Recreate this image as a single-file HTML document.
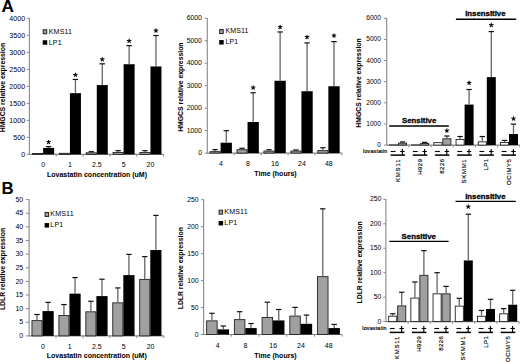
<!DOCTYPE html>
<html><head><meta charset="utf-8"><style>
html,body{margin:0;padding:0;background:#fff;width:520px;height:362px;overflow:hidden}
svg{display:block}
text{stroke:#000;stroke-width:0px;paint-order:stroke}
text[font-weight=bold]{stroke-width:0.05px}
</style></head><body>
<svg width="520" height="362" viewBox="0 0 520 362" font-family='"Liberation Sans", sans-serif'>
<rect width="520" height="362" fill="#fff"/>
<text x="1.60" y="12.40" font-size="17.2" text-anchor="start" font-weight="bold">A</text>
<text x="1.50" y="193.90" font-size="16.8" text-anchor="start" font-weight="bold">B</text>
<line x1="29.40" y1="17.90" x2="29.40" y2="154.80" stroke="#888" stroke-width="1.1"/>
<line x1="26.80" y1="154.40" x2="29.40" y2="154.40" stroke="#888" stroke-width="1.0"/>
<text x="25.08" y="156.61" font-size="7.1" text-anchor="end">0</text>
<line x1="26.80" y1="137.39" x2="29.40" y2="137.39" stroke="#888" stroke-width="1.0"/>
<text x="25.08" y="139.59" font-size="7.1" text-anchor="end">500</text>
<line x1="26.80" y1="120.38" x2="29.40" y2="120.38" stroke="#888" stroke-width="1.0"/>
<text x="25.08" y="122.58" font-size="7.1" text-anchor="end">1000</text>
<line x1="26.80" y1="103.36" x2="29.40" y2="103.36" stroke="#888" stroke-width="1.0"/>
<text x="25.08" y="105.57" font-size="7.1" text-anchor="end">1500</text>
<line x1="26.80" y1="86.35" x2="29.40" y2="86.35" stroke="#888" stroke-width="1.0"/>
<text x="25.08" y="88.56" font-size="7.1" text-anchor="end">2000</text>
<line x1="26.80" y1="69.34" x2="29.40" y2="69.34" stroke="#888" stroke-width="1.0"/>
<text x="25.08" y="71.54" font-size="7.1" text-anchor="end">2500</text>
<line x1="26.80" y1="52.33" x2="29.40" y2="52.33" stroke="#888" stroke-width="1.0"/>
<text x="25.08" y="54.53" font-size="7.1" text-anchor="end">3000</text>
<line x1="26.80" y1="35.31" x2="29.40" y2="35.31" stroke="#888" stroke-width="1.0"/>
<text x="25.08" y="37.52" font-size="7.1" text-anchor="end">3500</text>
<line x1="26.80" y1="18.30" x2="29.40" y2="18.30" stroke="#888" stroke-width="1.0"/>
<text x="25.08" y="20.51" font-size="7.1" text-anchor="end">4000</text>
<line x1="29.40" y1="154.40" x2="163.60" y2="154.40" stroke="#888" stroke-width="1.1"/>
<line x1="56.24" y1="154.40" x2="56.24" y2="156.60" stroke="#888" stroke-width="1.0"/>
<line x1="83.08" y1="154.40" x2="83.08" y2="156.60" stroke="#888" stroke-width="1.0"/>
<line x1="109.92" y1="154.40" x2="109.92" y2="156.60" stroke="#888" stroke-width="1.0"/>
<line x1="136.76" y1="154.40" x2="136.76" y2="156.60" stroke="#888" stroke-width="1.0"/>
<line x1="163.60" y1="154.40" x2="163.60" y2="156.60" stroke="#888" stroke-width="1.0"/>
<rect x="32.55" y="153.49" width="10.10" height="0.91" fill="#a0a0a0" stroke="#222" stroke-width="0.9"/>
<rect x="43.10" y="147.90" width="11.00" height="6.50" fill="#000"/>
<line x1="48.60" y1="147.90" x2="48.60" y2="146.61" stroke="#666" stroke-width="1.3"/>
<line x1="45.90" y1="146.61" x2="51.30" y2="146.61" stroke="#111" stroke-width="1.2"/>
<path d="M48.60,142.10L48.60,140.20M48.60,142.10L50.41,141.51M48.60,142.10L49.72,143.64M48.60,142.10L47.48,143.64M48.60,142.10L46.79,141.51" stroke="#000" stroke-width="1.05" stroke-linecap="round"/>
<rect x="59.39" y="153.32" width="10.10" height="1.08" fill="#a0a0a0" stroke="#222" stroke-width="0.9"/>
<rect x="69.94" y="93.16" width="11.00" height="61.25" fill="#000"/>
<line x1="75.44" y1="93.16" x2="75.44" y2="79.44" stroke="#666" stroke-width="1.3"/>
<line x1="72.74" y1="79.44" x2="78.14" y2="79.44" stroke="#111" stroke-width="1.2"/>
<path d="M75.44,74.90L75.44,73.00M75.44,74.90L77.25,74.31M75.44,74.90L76.56,76.44M75.44,74.90L74.32,76.44M75.44,74.90L73.63,74.31" stroke="#000" stroke-width="1.05" stroke-linecap="round"/>
<rect x="86.23" y="152.81" width="10.10" height="1.59" fill="#a0a0a0" stroke="#222" stroke-width="0.9"/>
<rect x="96.78" y="85.06" width="11.00" height="69.34" fill="#000"/>
<line x1="91.28" y1="152.36" x2="91.28" y2="151.68" stroke="#666" stroke-width="1.3"/>
<line x1="88.58" y1="151.68" x2="93.98" y2="151.68" stroke="#111" stroke-width="1.2"/>
<line x1="102.28" y1="85.06" x2="102.28" y2="63.83" stroke="#666" stroke-width="1.3"/>
<line x1="99.58" y1="63.83" x2="104.98" y2="63.83" stroke="#111" stroke-width="1.2"/>
<path d="M102.28,59.30L102.28,57.40M102.28,59.30L104.09,58.71M102.28,59.30L103.40,60.84M102.28,59.30L101.16,60.84M102.28,59.30L100.47,58.71" stroke="#000" stroke-width="1.05" stroke-linecap="round"/>
<rect x="113.07" y="152.47" width="10.10" height="1.93" fill="#a0a0a0" stroke="#222" stroke-width="0.9"/>
<rect x="123.62" y="64.23" width="11.00" height="90.17" fill="#000"/>
<line x1="118.12" y1="152.02" x2="118.12" y2="150.66" stroke="#666" stroke-width="1.3"/>
<line x1="115.42" y1="150.66" x2="120.82" y2="150.66" stroke="#111" stroke-width="1.2"/>
<line x1="129.12" y1="64.23" x2="129.12" y2="45.62" stroke="#666" stroke-width="1.3"/>
<line x1="126.42" y1="45.62" x2="131.82" y2="45.62" stroke="#111" stroke-width="1.2"/>
<path d="M129.12,41.00L129.12,39.10M129.12,41.00L130.93,40.41M129.12,41.00L130.24,42.54M129.12,41.00L128.00,42.54M129.12,41.00L127.31,40.41" stroke="#000" stroke-width="1.05" stroke-linecap="round"/>
<rect x="139.91" y="152.47" width="10.10" height="1.93" fill="#a0a0a0" stroke="#222" stroke-width="0.9"/>
<rect x="150.46" y="66.45" width="11.00" height="87.95" fill="#000"/>
<line x1="144.96" y1="152.02" x2="144.96" y2="150.66" stroke="#666" stroke-width="1.3"/>
<line x1="142.26" y1="150.66" x2="147.66" y2="150.66" stroke="#111" stroke-width="1.2"/>
<line x1="155.96" y1="66.45" x2="155.96" y2="35.52" stroke="#666" stroke-width="1.3"/>
<line x1="153.26" y1="35.52" x2="158.66" y2="35.52" stroke="#111" stroke-width="1.2"/>
<path d="M155.96,30.60L155.96,28.70M155.96,30.60L157.77,30.01M155.96,30.60L157.08,32.14M155.96,30.60L154.84,32.14M155.96,30.60L154.15,30.01" stroke="#000" stroke-width="1.05" stroke-linecap="round"/>
<text x="43.12" y="166.60" font-size="7.0" text-anchor="middle">0</text>
<text x="69.96" y="166.60" font-size="7.0" text-anchor="middle">1</text>
<text x="96.80" y="166.60" font-size="7.0" text-anchor="middle">2.5</text>
<text x="123.64" y="166.60" font-size="7.0" text-anchor="middle">5</text>
<text x="150.48" y="166.60" font-size="7.0" text-anchor="middle">20</text>
<text x="97.00" y="176.50" font-size="7.0" text-anchor="middle" font-weight="bold">Lovastatin concentration (uM)</text>
<rect x="43.20" y="29.75" width="3.50" height="4.00" fill="#a0a0a0" stroke="#222" stroke-width="1.0"/>
<text x="48.70" y="33.50" font-size="7.1" text-anchor="start" letter-spacing="0.15">KMS11</text>
<rect x="42.70" y="40.25" width="4.50" height="4.50" fill="#000"/>
<text x="48.70" y="44.60" font-size="7.1" text-anchor="start" letter-spacing="0.15">LP1</text>
<text x="4.80" y="87.60" font-size="6.85" text-anchor="middle" font-weight="bold" transform="rotate(-90 4.80 87.60)">HMGCS relative expression</text>
<line x1="207.30" y1="17.90" x2="207.30" y2="153.50" stroke="#888" stroke-width="1.1"/>
<line x1="204.70" y1="153.10" x2="207.30" y2="153.10" stroke="#888" stroke-width="1.0"/>
<text x="201.98" y="155.23" font-size="6.9" text-anchor="end">0</text>
<line x1="204.70" y1="130.63" x2="207.30" y2="130.63" stroke="#888" stroke-width="1.0"/>
<text x="201.98" y="132.77" font-size="6.9" text-anchor="end">1000</text>
<line x1="204.70" y1="108.17" x2="207.30" y2="108.17" stroke="#888" stroke-width="1.0"/>
<text x="201.98" y="110.30" font-size="6.9" text-anchor="end">2000</text>
<line x1="204.70" y1="85.70" x2="207.30" y2="85.70" stroke="#888" stroke-width="1.0"/>
<text x="201.98" y="87.83" font-size="6.9" text-anchor="end">3000</text>
<line x1="204.70" y1="63.23" x2="207.30" y2="63.23" stroke="#888" stroke-width="1.0"/>
<text x="201.98" y="65.37" font-size="6.9" text-anchor="end">4000</text>
<line x1="204.70" y1="40.77" x2="207.30" y2="40.77" stroke="#888" stroke-width="1.0"/>
<text x="201.98" y="42.90" font-size="6.9" text-anchor="end">5000</text>
<line x1="204.70" y1="18.30" x2="207.30" y2="18.30" stroke="#888" stroke-width="1.0"/>
<text x="201.98" y="20.43" font-size="6.9" text-anchor="end">6000</text>
<line x1="207.30" y1="153.10" x2="342.00" y2="153.10" stroke="#888" stroke-width="1.1"/>
<line x1="234.24" y1="153.10" x2="234.24" y2="155.30" stroke="#888" stroke-width="1.0"/>
<line x1="261.18" y1="153.10" x2="261.18" y2="155.30" stroke="#888" stroke-width="1.0"/>
<line x1="288.12" y1="153.10" x2="288.12" y2="155.30" stroke="#888" stroke-width="1.0"/>
<line x1="315.06" y1="153.10" x2="315.06" y2="155.30" stroke="#888" stroke-width="1.0"/>
<line x1="342.00" y1="153.10" x2="342.00" y2="155.30" stroke="#888" stroke-width="1.0"/>
<rect x="210.05" y="151.64" width="10.10" height="1.46" fill="#a0a0a0" stroke="#222" stroke-width="0.9"/>
<rect x="220.60" y="142.74" width="11.30" height="10.36" fill="#000"/>
<line x1="215.10" y1="151.19" x2="215.10" y2="149.62" stroke="#666" stroke-width="1.3"/>
<line x1="212.40" y1="149.62" x2="217.80" y2="149.62" stroke="#111" stroke-width="1.2"/>
<line x1="226.25" y1="142.74" x2="226.25" y2="130.68" stroke="#666" stroke-width="1.3"/>
<line x1="223.55" y1="130.68" x2="228.95" y2="130.68" stroke="#111" stroke-width="1.2"/>
<rect x="236.99" y="149.73" width="10.10" height="3.37" fill="#a0a0a0" stroke="#222" stroke-width="0.9"/>
<rect x="247.54" y="122.01" width="11.30" height="31.09" fill="#000"/>
<line x1="242.04" y1="149.28" x2="242.04" y2="148.27" stroke="#666" stroke-width="1.3"/>
<line x1="239.34" y1="148.27" x2="244.74" y2="148.27" stroke="#111" stroke-width="1.2"/>
<line x1="253.19" y1="122.01" x2="253.19" y2="92.73" stroke="#666" stroke-width="1.3"/>
<line x1="250.49" y1="92.73" x2="255.89" y2="92.73" stroke="#111" stroke-width="1.2"/>
<path d="M253.19,87.60L253.19,85.70M253.19,87.60L255.00,87.01M253.19,87.60L254.31,89.14M253.19,87.60L252.07,89.14M253.19,87.60L251.38,87.01" stroke="#000" stroke-width="1.05" stroke-linecap="round"/>
<rect x="263.93" y="151.08" width="10.10" height="2.02" fill="#a0a0a0" stroke="#222" stroke-width="0.9"/>
<rect x="274.48" y="80.76" width="11.30" height="72.34" fill="#000"/>
<line x1="268.98" y1="150.63" x2="268.98" y2="149.73" stroke="#666" stroke-width="1.3"/>
<line x1="266.28" y1="149.73" x2="271.68" y2="149.73" stroke="#111" stroke-width="1.2"/>
<line x1="280.13" y1="80.76" x2="280.13" y2="31.96" stroke="#666" stroke-width="1.3"/>
<line x1="277.43" y1="31.96" x2="282.83" y2="31.96" stroke="#111" stroke-width="1.2"/>
<path d="M280.13,27.10L280.13,25.20M280.13,27.10L281.94,26.51M280.13,27.10L281.25,28.64M280.13,27.10L279.01,28.64M280.13,27.10L278.32,26.51" stroke="#000" stroke-width="1.05" stroke-linecap="round"/>
<rect x="290.87" y="151.08" width="10.10" height="2.02" fill="#a0a0a0" stroke="#222" stroke-width="0.9"/>
<rect x="301.42" y="91.23" width="11.30" height="61.87" fill="#000"/>
<line x1="295.92" y1="150.63" x2="295.92" y2="149.95" stroke="#666" stroke-width="1.3"/>
<line x1="293.22" y1="149.95" x2="298.62" y2="149.95" stroke="#111" stroke-width="1.2"/>
<line x1="307.07" y1="91.23" x2="307.07" y2="42.90" stroke="#666" stroke-width="1.3"/>
<line x1="304.37" y1="42.90" x2="309.77" y2="42.90" stroke="#111" stroke-width="1.2"/>
<path d="M307.07,37.10L307.07,35.20M307.07,37.10L308.88,36.51M307.07,37.10L308.19,38.64M307.07,37.10L305.95,38.64M307.07,37.10L305.26,36.51" stroke="#000" stroke-width="1.05" stroke-linecap="round"/>
<rect x="317.81" y="150.63" width="10.10" height="2.47" fill="#a0a0a0" stroke="#222" stroke-width="0.9"/>
<rect x="328.36" y="86.24" width="11.30" height="66.86" fill="#000"/>
<line x1="322.86" y1="150.18" x2="322.86" y2="147.71" stroke="#666" stroke-width="1.3"/>
<line x1="320.16" y1="147.71" x2="325.56" y2="147.71" stroke="#111" stroke-width="1.2"/>
<line x1="334.01" y1="86.24" x2="334.01" y2="41.62" stroke="#666" stroke-width="1.3"/>
<line x1="331.31" y1="41.62" x2="336.71" y2="41.62" stroke="#111" stroke-width="1.2"/>
<path d="M334.01,35.60L334.01,33.70M334.01,35.60L335.82,35.01M334.01,35.60L335.13,37.14M334.01,35.60L332.89,37.14M334.01,35.60L332.20,35.01" stroke="#000" stroke-width="1.05" stroke-linecap="round"/>
<text x="221.07" y="165.80" font-size="7.0" text-anchor="middle">4</text>
<text x="248.01" y="165.80" font-size="7.0" text-anchor="middle">8</text>
<text x="274.95" y="165.80" font-size="7.0" text-anchor="middle">16</text>
<text x="301.89" y="165.80" font-size="7.0" text-anchor="middle">24</text>
<text x="328.83" y="165.80" font-size="7.0" text-anchor="middle">48</text>
<text x="275.50" y="175.60" font-size="7.0" text-anchor="middle" font-weight="bold">Time (hours)</text>
<rect x="219.70" y="29.55" width="3.50" height="4.00" fill="#a0a0a0" stroke="#222" stroke-width="1.0"/>
<text x="225.41" y="33.00" font-size="7.0" text-anchor="start" letter-spacing="0.15">KMS11</text>
<rect x="219.20" y="40.05" width="4.50" height="4.50" fill="#000"/>
<text x="225.41" y="44.00" font-size="7.0" text-anchor="start" letter-spacing="0.15">LP1</text>
<text x="183.20" y="87.15" font-size="6.85" text-anchor="middle" font-weight="bold" transform="rotate(-90 183.20 87.15)">HMGCS relative expression</text>
<line x1="386.70" y1="17.90" x2="386.70" y2="145.50" stroke="#888" stroke-width="1.1"/>
<line x1="384.10" y1="145.10" x2="386.70" y2="145.10" stroke="#888" stroke-width="1.0"/>
<text x="380.96" y="147.13" font-size="6.6" text-anchor="end">0</text>
<line x1="384.10" y1="123.97" x2="386.70" y2="123.97" stroke="#888" stroke-width="1.0"/>
<text x="380.96" y="125.99" font-size="6.6" text-anchor="end">1000</text>
<line x1="384.10" y1="102.83" x2="386.70" y2="102.83" stroke="#888" stroke-width="1.0"/>
<text x="380.96" y="104.86" font-size="6.6" text-anchor="end">2000</text>
<line x1="384.10" y1="81.70" x2="386.70" y2="81.70" stroke="#888" stroke-width="1.0"/>
<text x="380.96" y="83.73" font-size="6.6" text-anchor="end">3000</text>
<line x1="384.10" y1="60.57" x2="386.70" y2="60.57" stroke="#888" stroke-width="1.0"/>
<text x="380.96" y="62.59" font-size="6.6" text-anchor="end">4000</text>
<line x1="384.10" y1="39.43" x2="386.70" y2="39.43" stroke="#888" stroke-width="1.0"/>
<text x="380.96" y="41.46" font-size="6.6" text-anchor="end">5000</text>
<line x1="384.10" y1="18.30" x2="386.70" y2="18.30" stroke="#888" stroke-width="1.0"/>
<text x="380.96" y="20.33" font-size="6.6" text-anchor="end">6000</text>
<line x1="386.70" y1="145.10" x2="519.90" y2="145.10" stroke="#888" stroke-width="1.1"/>
<line x1="408.90" y1="145.10" x2="408.90" y2="147.30" stroke="#888" stroke-width="1.0"/>
<line x1="431.10" y1="145.10" x2="431.10" y2="147.30" stroke="#888" stroke-width="1.0"/>
<line x1="453.30" y1="145.10" x2="453.30" y2="147.30" stroke="#888" stroke-width="1.0"/>
<line x1="475.50" y1="145.10" x2="475.50" y2="147.30" stroke="#888" stroke-width="1.0"/>
<line x1="497.70" y1="145.10" x2="497.70" y2="147.30" stroke="#888" stroke-width="1.0"/>
<line x1="519.90" y1="145.10" x2="519.90" y2="147.30" stroke="#888" stroke-width="1.0"/>
<rect x="389.45" y="144.92" width="8.10" height="0.18" fill="#fff" stroke="#222" stroke-width="0.9"/>
<rect x="398.45" y="143.16" width="8.10" height="1.94" fill="#a0a0a0" stroke="#222" stroke-width="0.9"/>
<line x1="402.50" y1="142.71" x2="402.50" y2="141.93" stroke="#666" stroke-width="1.3"/>
<line x1="399.80" y1="141.93" x2="405.20" y2="141.93" stroke="#111" stroke-width="1.2"/>
<line x1="390.70" y1="151.50" x2="395.50" y2="151.50" stroke="#000" stroke-width="1.1"/>
<line x1="400.20" y1="151.50" x2="404.70" y2="151.50" stroke="#000" stroke-width="1.1"/>
<line x1="402.40" y1="149.00" x2="402.40" y2="155.10" stroke="#000" stroke-width="1.1"/>
<line x1="390.50" y1="155.10" x2="405.10" y2="155.10" stroke="#000" stroke-width="1.5"/>
<text x="399.65" y="158.60" font-size="6.0" text-anchor="end" style="stroke-width:0.15px" letter-spacing="0.85" transform="rotate(-90 399.65 158.60)">KMS11</text>
<rect x="411.65" y="144.92" width="8.10" height="0.18" fill="#fff" stroke="#222" stroke-width="0.9"/>
<rect x="420.65" y="143.44" width="8.10" height="1.66" fill="#a0a0a0" stroke="#222" stroke-width="0.9"/>
<line x1="424.70" y1="142.99" x2="424.70" y2="142.35" stroke="#666" stroke-width="1.3"/>
<line x1="422.00" y1="142.35" x2="427.40" y2="142.35" stroke="#111" stroke-width="1.2"/>
<line x1="412.90" y1="151.50" x2="417.70" y2="151.50" stroke="#000" stroke-width="1.1"/>
<line x1="422.40" y1="151.50" x2="426.90" y2="151.50" stroke="#000" stroke-width="1.1"/>
<line x1="424.60" y1="149.00" x2="424.60" y2="155.10" stroke="#000" stroke-width="1.1"/>
<line x1="412.70" y1="155.10" x2="427.30" y2="155.10" stroke="#000" stroke-width="1.5"/>
<text x="421.85" y="158.60" font-size="6.0" text-anchor="end" style="stroke-width:0.15px" letter-spacing="0.42" transform="rotate(-90 421.85 158.60)">H929</text>
<rect x="433.85" y="142.65" width="8.10" height="2.45" fill="#fff" stroke="#222" stroke-width="0.9"/>
<rect x="442.85" y="138.77" width="8.10" height="6.33" fill="#a0a0a0" stroke="#222" stroke-width="0.9"/>
<line x1="446.90" y1="138.32" x2="446.90" y2="136.01" stroke="#666" stroke-width="1.3"/>
<line x1="444.20" y1="136.01" x2="449.60" y2="136.01" stroke="#111" stroke-width="1.2"/>
<path d="M446.90,130.70L446.90,128.80M446.90,130.70L448.71,130.11M446.90,130.70L448.02,132.24M446.90,130.70L445.78,132.24M446.90,130.70L445.09,130.11" stroke="#000" stroke-width="1.05" stroke-linecap="round"/>
<line x1="435.10" y1="151.50" x2="439.90" y2="151.50" stroke="#000" stroke-width="1.1"/>
<line x1="444.60" y1="151.50" x2="449.10" y2="151.50" stroke="#000" stroke-width="1.1"/>
<line x1="446.80" y1="149.00" x2="446.80" y2="155.10" stroke="#000" stroke-width="1.1"/>
<line x1="434.90" y1="155.10" x2="449.50" y2="155.10" stroke="#000" stroke-width="1.5"/>
<text x="444.05" y="158.60" font-size="6.0" text-anchor="end" style="stroke-width:0.15px" letter-spacing="0.42" transform="rotate(-90 444.05 158.60)">8226</text>
<rect x="456.05" y="139.46" width="8.10" height="5.64" fill="#fff" stroke="#222" stroke-width="0.9"/>
<rect x="464.60" y="104.57" width="9.00" height="40.53" fill="#000"/>
<line x1="460.10" y1="139.01" x2="460.10" y2="136.52" stroke="#666" stroke-width="1.3"/>
<line x1="457.40" y1="136.52" x2="462.80" y2="136.52" stroke="#111" stroke-width="1.2"/>
<line x1="469.10" y1="104.57" x2="469.10" y2="89.50" stroke="#666" stroke-width="1.3"/>
<line x1="466.40" y1="89.50" x2="471.80" y2="89.50" stroke="#111" stroke-width="1.2"/>
<path d="M469.10,82.90L469.10,81.00M469.10,82.90L470.91,82.31M469.10,82.90L470.22,84.44M469.10,82.90L467.98,84.44M469.10,82.90L467.29,82.31" stroke="#000" stroke-width="1.05" stroke-linecap="round"/>
<line x1="457.30" y1="151.50" x2="462.10" y2="151.50" stroke="#000" stroke-width="1.1"/>
<line x1="466.80" y1="151.50" x2="471.30" y2="151.50" stroke="#000" stroke-width="1.1"/>
<line x1="469.00" y1="149.00" x2="469.00" y2="155.10" stroke="#000" stroke-width="1.1"/>
<line x1="457.10" y1="155.10" x2="471.70" y2="155.10" stroke="#000" stroke-width="1.5"/>
<text x="466.25" y="158.60" font-size="6.0" text-anchor="end" style="stroke-width:0.15px" letter-spacing="0.7" transform="rotate(-90 466.25 158.60)">SKMM1</text>
<rect x="478.25" y="141.85" width="8.10" height="3.25" fill="#fff" stroke="#222" stroke-width="0.9"/>
<rect x="486.80" y="77.11" width="9.00" height="67.99" fill="#000"/>
<line x1="482.30" y1="141.40" x2="482.30" y2="136.52" stroke="#666" stroke-width="1.3"/>
<line x1="479.60" y1="136.52" x2="485.00" y2="136.52" stroke="#111" stroke-width="1.2"/>
<line x1="491.30" y1="77.11" x2="491.30" y2="31.59" stroke="#666" stroke-width="1.3"/>
<line x1="488.60" y1="31.59" x2="494.00" y2="31.59" stroke="#111" stroke-width="1.2"/>
<path d="M491.30,25.10L491.30,23.20M491.30,25.10L493.11,24.51M491.30,25.10L492.42,26.64M491.30,25.10L490.18,26.64M491.30,25.10L489.49,24.51" stroke="#000" stroke-width="1.05" stroke-linecap="round"/>
<line x1="479.50" y1="151.50" x2="484.30" y2="151.50" stroke="#000" stroke-width="1.1"/>
<line x1="489.00" y1="151.50" x2="493.50" y2="151.50" stroke="#000" stroke-width="1.1"/>
<line x1="491.20" y1="149.00" x2="491.20" y2="155.10" stroke="#000" stroke-width="1.1"/>
<line x1="479.30" y1="155.10" x2="493.90" y2="155.10" stroke="#000" stroke-width="1.5"/>
<text x="488.45" y="158.60" font-size="6.0" text-anchor="end" style="stroke-width:0.15px" letter-spacing="0.42" transform="rotate(-90 488.45 158.60)">LP1</text>
<rect x="500.45" y="142.46" width="8.10" height="2.64" fill="#fff" stroke="#222" stroke-width="0.9"/>
<rect x="509.00" y="134.03" width="9.00" height="11.07" fill="#000"/>
<line x1="504.50" y1="142.01" x2="504.50" y2="140.41" stroke="#666" stroke-width="1.3"/>
<line x1="501.80" y1="140.41" x2="507.20" y2="140.41" stroke="#111" stroke-width="1.2"/>
<line x1="513.50" y1="134.03" x2="513.50" y2="124.14" stroke="#666" stroke-width="1.3"/>
<line x1="510.80" y1="124.14" x2="516.20" y2="124.14" stroke="#111" stroke-width="1.2"/>
<path d="M513.50,118.60L513.50,116.70M513.50,118.60L515.31,118.01M513.50,118.60L514.62,120.14M513.50,118.60L512.38,120.14M513.50,118.60L511.69,118.01" stroke="#000" stroke-width="1.05" stroke-linecap="round"/>
<line x1="501.70" y1="151.50" x2="506.50" y2="151.50" stroke="#000" stroke-width="1.1"/>
<line x1="511.20" y1="151.50" x2="515.70" y2="151.50" stroke="#000" stroke-width="1.1"/>
<line x1="513.40" y1="149.00" x2="513.40" y2="155.10" stroke="#000" stroke-width="1.1"/>
<line x1="501.50" y1="155.10" x2="516.10" y2="155.10" stroke="#000" stroke-width="1.5"/>
<text x="510.65" y="158.60" font-size="6.0" text-anchor="end" style="stroke-width:0.15px" letter-spacing="0.55" transform="rotate(-90 510.65 158.60)">OCIMY5</text>
<text x="387.50" y="152.70" font-size="5.2" text-anchor="end" style="stroke-width:0.2px" letter-spacing="0.25">lovastatin</text>
<line x1="389.20" y1="126.00" x2="448.80" y2="126.00" stroke="#000" stroke-width="1.4"/>
<text x="402.00" y="123.40" font-size="7.8" text-anchor="start" style="stroke-width:0.3px" font-weight="bold" letter-spacing="0.0">Sensitive</text>
<line x1="455.90" y1="19.20" x2="516.20" y2="19.20" stroke="#000" stroke-width="1.4"/>
<text x="465.20" y="16.00" font-size="7.8" text-anchor="start" style="stroke-width:0.3px" font-weight="bold" letter-spacing="0.0">Insensitive</text>
<text x="360.80" y="82.95" font-size="6.85" text-anchor="middle" font-weight="bold" transform="rotate(-90 360.80 82.95)">HMGCS relative expression</text>
<line x1="29.10" y1="199.20" x2="29.10" y2="336.30" stroke="#888" stroke-width="1.1"/>
<line x1="25.90" y1="335.90" x2="29.10" y2="335.90" stroke="#888" stroke-width="1.0"/>
<text x="23.18" y="338.07" font-size="7.0" text-anchor="end">0</text>
<line x1="25.90" y1="322.27" x2="29.10" y2="322.27" stroke="#888" stroke-width="1.0"/>
<text x="23.18" y="324.44" font-size="7.0" text-anchor="end">5</text>
<line x1="25.90" y1="308.64" x2="29.10" y2="308.64" stroke="#888" stroke-width="1.0"/>
<text x="23.18" y="310.81" font-size="7.0" text-anchor="end">10</text>
<line x1="25.90" y1="295.01" x2="29.10" y2="295.01" stroke="#888" stroke-width="1.0"/>
<text x="23.18" y="297.18" font-size="7.0" text-anchor="end">15</text>
<line x1="25.90" y1="281.38" x2="29.10" y2="281.38" stroke="#888" stroke-width="1.0"/>
<text x="23.18" y="283.55" font-size="7.0" text-anchor="end">20</text>
<line x1="25.90" y1="267.75" x2="29.10" y2="267.75" stroke="#888" stroke-width="1.0"/>
<text x="23.18" y="269.92" font-size="7.0" text-anchor="end">25</text>
<line x1="25.90" y1="254.12" x2="29.10" y2="254.12" stroke="#888" stroke-width="1.0"/>
<text x="23.18" y="256.29" font-size="7.0" text-anchor="end">30</text>
<line x1="25.90" y1="240.49" x2="29.10" y2="240.49" stroke="#888" stroke-width="1.0"/>
<text x="23.18" y="242.66" font-size="7.0" text-anchor="end">35</text>
<line x1="25.90" y1="226.86" x2="29.10" y2="226.86" stroke="#888" stroke-width="1.0"/>
<text x="23.18" y="229.03" font-size="7.0" text-anchor="end">40</text>
<line x1="25.90" y1="213.23" x2="29.10" y2="213.23" stroke="#888" stroke-width="1.0"/>
<text x="23.18" y="215.40" font-size="7.0" text-anchor="end">45</text>
<line x1="25.90" y1="199.60" x2="29.10" y2="199.60" stroke="#888" stroke-width="1.0"/>
<text x="23.18" y="201.77" font-size="7.0" text-anchor="end">50</text>
<line x1="29.10" y1="335.90" x2="163.80" y2="335.90" stroke="#888" stroke-width="1.1"/>
<line x1="56.04" y1="335.90" x2="56.04" y2="338.10" stroke="#888" stroke-width="1.0"/>
<line x1="82.98" y1="335.90" x2="82.98" y2="338.10" stroke="#888" stroke-width="1.0"/>
<line x1="109.92" y1="335.90" x2="109.92" y2="338.10" stroke="#888" stroke-width="1.0"/>
<line x1="136.86" y1="335.90" x2="136.86" y2="338.10" stroke="#888" stroke-width="1.0"/>
<line x1="163.80" y1="335.90" x2="163.80" y2="338.10" stroke="#888" stroke-width="1.0"/>
<rect x="31.95" y="320.62" width="10.10" height="15.28" fill="#a0a0a0" stroke="#222" stroke-width="0.9"/>
<rect x="42.50" y="311.09" width="11.20" height="24.81" fill="#000"/>
<line x1="37.00" y1="320.17" x2="37.00" y2="314.50" stroke="#666" stroke-width="1.3"/>
<line x1="34.30" y1="314.50" x2="39.70" y2="314.50" stroke="#111" stroke-width="1.2"/>
<line x1="48.10" y1="311.09" x2="48.10" y2="302.37" stroke="#666" stroke-width="1.3"/>
<line x1="45.40" y1="302.37" x2="50.80" y2="302.37" stroke="#111" stroke-width="1.2"/>
<rect x="58.89" y="315.47" width="10.10" height="20.43" fill="#a0a0a0" stroke="#222" stroke-width="0.9"/>
<rect x="69.44" y="293.65" width="11.20" height="42.25" fill="#000"/>
<line x1="63.94" y1="315.02" x2="63.94" y2="304.55" stroke="#666" stroke-width="1.3"/>
<line x1="61.24" y1="304.55" x2="66.64" y2="304.55" stroke="#111" stroke-width="1.2"/>
<line x1="75.04" y1="293.65" x2="75.04" y2="277.56" stroke="#666" stroke-width="1.3"/>
<line x1="72.34" y1="277.56" x2="77.74" y2="277.56" stroke="#111" stroke-width="1.2"/>
<rect x="85.83" y="311.82" width="10.10" height="24.08" fill="#a0a0a0" stroke="#222" stroke-width="0.9"/>
<rect x="96.38" y="296.10" width="11.20" height="39.80" fill="#000"/>
<line x1="90.88" y1="311.37" x2="90.88" y2="301.28" stroke="#666" stroke-width="1.3"/>
<line x1="88.18" y1="301.28" x2="93.58" y2="301.28" stroke="#111" stroke-width="1.2"/>
<line x1="101.98" y1="296.10" x2="101.98" y2="279.20" stroke="#666" stroke-width="1.3"/>
<line x1="99.28" y1="279.20" x2="104.68" y2="279.20" stroke="#111" stroke-width="1.2"/>
<rect x="112.77" y="302.82" width="10.10" height="33.08" fill="#a0a0a0" stroke="#222" stroke-width="0.9"/>
<rect x="123.32" y="275.11" width="11.20" height="60.79" fill="#000"/>
<line x1="117.82" y1="302.37" x2="117.82" y2="287.92" stroke="#666" stroke-width="1.3"/>
<line x1="115.12" y1="287.92" x2="120.52" y2="287.92" stroke="#111" stroke-width="1.2"/>
<line x1="128.92" y1="275.11" x2="128.92" y2="254.39" stroke="#666" stroke-width="1.3"/>
<line x1="126.22" y1="254.39" x2="131.62" y2="254.39" stroke="#111" stroke-width="1.2"/>
<rect x="139.71" y="279.38" width="10.10" height="56.52" fill="#a0a0a0" stroke="#222" stroke-width="0.9"/>
<rect x="150.26" y="250.03" width="11.20" height="85.87" fill="#000"/>
<line x1="144.76" y1="278.93" x2="144.76" y2="256.57" stroke="#666" stroke-width="1.3"/>
<line x1="142.06" y1="256.57" x2="147.46" y2="256.57" stroke="#111" stroke-width="1.2"/>
<line x1="155.86" y1="250.03" x2="155.86" y2="215.41" stroke="#666" stroke-width="1.3"/>
<line x1="153.16" y1="215.41" x2="158.56" y2="215.41" stroke="#111" stroke-width="1.2"/>
<text x="42.87" y="348.90" font-size="7.0" text-anchor="middle">0</text>
<text x="69.81" y="348.90" font-size="7.0" text-anchor="middle">1</text>
<text x="96.75" y="348.90" font-size="7.0" text-anchor="middle">2.5</text>
<text x="123.69" y="348.90" font-size="7.0" text-anchor="middle">5</text>
<text x="150.63" y="348.90" font-size="7.0" text-anchor="middle">20</text>
<text x="96.80" y="358.30" font-size="7.0" text-anchor="middle" font-weight="bold">Lovastatin concentration (uM)</text>
<rect x="45.10" y="212.45" width="3.50" height="4.00" fill="#a0a0a0" stroke="#222" stroke-width="1.0"/>
<text x="50.30" y="216.40" font-size="7.1" text-anchor="start" letter-spacing="0.15">KMS11</text>
<rect x="44.60" y="223.05" width="4.50" height="4.50" fill="#000"/>
<text x="50.30" y="227.20" font-size="7.1" text-anchor="start" letter-spacing="0.15">LP1</text>
<text x="4.90" y="269.00" font-size="6.85" text-anchor="middle" font-weight="bold" transform="rotate(-90 4.90 269.00)">LDLR relative expression</text>
<line x1="203.60" y1="199.30" x2="203.60" y2="334.90" stroke="#888" stroke-width="1.1"/>
<line x1="201.00" y1="334.50" x2="203.60" y2="334.50" stroke="#888" stroke-width="1.0"/>
<text x="198.47" y="336.60" font-size="6.8" text-anchor="end">0</text>
<line x1="201.00" y1="307.54" x2="203.60" y2="307.54" stroke="#888" stroke-width="1.0"/>
<text x="198.47" y="309.64" font-size="6.8" text-anchor="end">50</text>
<line x1="201.00" y1="280.58" x2="203.60" y2="280.58" stroke="#888" stroke-width="1.0"/>
<text x="198.47" y="282.68" font-size="6.8" text-anchor="end">100</text>
<line x1="201.00" y1="253.62" x2="203.60" y2="253.62" stroke="#888" stroke-width="1.0"/>
<text x="198.47" y="255.72" font-size="6.8" text-anchor="end">150</text>
<line x1="201.00" y1="226.66" x2="203.60" y2="226.66" stroke="#888" stroke-width="1.0"/>
<text x="198.47" y="228.76" font-size="6.8" text-anchor="end">200</text>
<line x1="201.00" y1="199.70" x2="203.60" y2="199.70" stroke="#888" stroke-width="1.0"/>
<text x="198.47" y="201.80" font-size="6.8" text-anchor="end">250</text>
<line x1="203.60" y1="334.50" x2="342.20" y2="334.50" stroke="#888" stroke-width="1.1"/>
<line x1="231.32" y1="334.50" x2="231.32" y2="336.70" stroke="#888" stroke-width="1.0"/>
<line x1="259.04" y1="334.50" x2="259.04" y2="336.70" stroke="#888" stroke-width="1.0"/>
<line x1="286.76" y1="334.50" x2="286.76" y2="336.70" stroke="#888" stroke-width="1.0"/>
<line x1="314.48" y1="334.50" x2="314.48" y2="336.70" stroke="#888" stroke-width="1.0"/>
<line x1="342.20" y1="334.50" x2="342.20" y2="336.70" stroke="#888" stroke-width="1.0"/>
<rect x="206.65" y="320.88" width="10.50" height="13.62" fill="#a0a0a0" stroke="#222" stroke-width="0.9"/>
<rect x="217.60" y="329.38" width="11.40" height="5.12" fill="#000"/>
<line x1="211.90" y1="320.43" x2="211.90" y2="313.31" stroke="#666" stroke-width="1.3"/>
<line x1="209.20" y1="313.31" x2="214.60" y2="313.31" stroke="#111" stroke-width="1.2"/>
<line x1="223.30" y1="329.38" x2="223.30" y2="325.98" stroke="#666" stroke-width="1.3"/>
<line x1="220.60" y1="325.98" x2="226.00" y2="325.98" stroke="#111" stroke-width="1.2"/>
<rect x="234.37" y="319.64" width="10.50" height="14.86" fill="#a0a0a0" stroke="#222" stroke-width="0.9"/>
<rect x="245.32" y="328.08" width="11.40" height="6.42" fill="#000"/>
<line x1="239.62" y1="319.19" x2="239.62" y2="311.69" stroke="#666" stroke-width="1.3"/>
<line x1="236.92" y1="311.69" x2="242.32" y2="311.69" stroke="#111" stroke-width="1.2"/>
<line x1="251.02" y1="328.08" x2="251.02" y2="323.50" stroke="#666" stroke-width="1.3"/>
<line x1="248.32" y1="323.50" x2="253.72" y2="323.50" stroke="#111" stroke-width="1.2"/>
<rect x="262.09" y="317.43" width="10.50" height="17.07" fill="#a0a0a0" stroke="#222" stroke-width="0.9"/>
<rect x="273.04" y="320.43" width="11.40" height="14.07" fill="#000"/>
<line x1="267.34" y1="316.98" x2="267.34" y2="302.20" stroke="#666" stroke-width="1.3"/>
<line x1="264.64" y1="302.20" x2="270.04" y2="302.20" stroke="#111" stroke-width="1.2"/>
<line x1="278.74" y1="320.43" x2="278.74" y2="309.48" stroke="#666" stroke-width="1.3"/>
<line x1="276.04" y1="309.48" x2="281.44" y2="309.48" stroke="#111" stroke-width="1.2"/>
<rect x="289.81" y="316.08" width="10.50" height="18.42" fill="#a0a0a0" stroke="#222" stroke-width="0.9"/>
<rect x="300.76" y="323.82" width="11.40" height="10.68" fill="#000"/>
<line x1="295.06" y1="315.63" x2="295.06" y2="307.38" stroke="#666" stroke-width="1.3"/>
<line x1="292.36" y1="307.38" x2="297.76" y2="307.38" stroke="#111" stroke-width="1.2"/>
<line x1="306.46" y1="323.82" x2="306.46" y2="315.09" stroke="#666" stroke-width="1.3"/>
<line x1="303.76" y1="315.09" x2="309.16" y2="315.09" stroke="#111" stroke-width="1.2"/>
<rect x="317.53" y="276.66" width="10.50" height="57.84" fill="#a0a0a0" stroke="#222" stroke-width="0.9"/>
<rect x="328.48" y="328.08" width="11.40" height="6.42" fill="#000"/>
<line x1="322.78" y1="276.21" x2="322.78" y2="208.81" stroke="#666" stroke-width="1.3"/>
<line x1="320.08" y1="208.81" x2="325.48" y2="208.81" stroke="#111" stroke-width="1.2"/>
<line x1="334.18" y1="328.08" x2="334.18" y2="324.42" stroke="#666" stroke-width="1.3"/>
<line x1="331.48" y1="324.42" x2="336.88" y2="324.42" stroke="#111" stroke-width="1.2"/>
<text x="217.76" y="347.60" font-size="7.0" text-anchor="middle">4</text>
<text x="245.48" y="347.60" font-size="7.0" text-anchor="middle">8</text>
<text x="273.20" y="347.60" font-size="7.0" text-anchor="middle">16</text>
<text x="300.92" y="347.60" font-size="7.0" text-anchor="middle">24</text>
<text x="328.64" y="347.60" font-size="7.0" text-anchor="middle">48</text>
<text x="275.50" y="357.80" font-size="7.0" text-anchor="middle" font-weight="bold">Time (hours)</text>
<rect x="219.10" y="210.15" width="3.50" height="4.00" fill="#a0a0a0" stroke="#222" stroke-width="1.0"/>
<text x="224.30" y="213.90" font-size="7.1" text-anchor="start" letter-spacing="0.15">KMS11</text>
<rect x="218.60" y="220.95" width="4.50" height="4.50" fill="#000"/>
<text x="224.30" y="225.10" font-size="7.1" text-anchor="start" letter-spacing="0.15">LP1</text>
<text x="183.50" y="268.20" font-size="6.85" text-anchor="middle" font-weight="bold" transform="rotate(-90 183.50 268.20)">LDLR relative expression</text>
<line x1="385.90" y1="198.90" x2="385.90" y2="322.00" stroke="#888" stroke-width="1.1"/>
<line x1="383.30" y1="321.60" x2="385.90" y2="321.60" stroke="#888" stroke-width="1.0"/>
<text x="381.27" y="323.70" font-size="6.8" text-anchor="end">0</text>
<line x1="383.30" y1="297.14" x2="385.90" y2="297.14" stroke="#888" stroke-width="1.0"/>
<text x="381.27" y="299.24" font-size="6.8" text-anchor="end">50</text>
<line x1="383.30" y1="272.68" x2="385.90" y2="272.68" stroke="#888" stroke-width="1.0"/>
<text x="381.27" y="274.78" font-size="6.8" text-anchor="end">100</text>
<line x1="383.30" y1="248.22" x2="385.90" y2="248.22" stroke="#888" stroke-width="1.0"/>
<text x="381.27" y="250.32" font-size="6.8" text-anchor="end">150</text>
<line x1="383.30" y1="223.76" x2="385.90" y2="223.76" stroke="#888" stroke-width="1.0"/>
<text x="381.27" y="225.86" font-size="6.8" text-anchor="end">200</text>
<line x1="383.30" y1="199.30" x2="385.90" y2="199.30" stroke="#888" stroke-width="1.0"/>
<text x="381.27" y="201.40" font-size="6.8" text-anchor="end">250</text>
<line x1="385.90" y1="321.60" x2="519.10" y2="321.60" stroke="#888" stroke-width="1.1"/>
<line x1="408.10" y1="321.60" x2="408.10" y2="323.80" stroke="#888" stroke-width="1.0"/>
<line x1="430.30" y1="321.60" x2="430.30" y2="323.80" stroke="#888" stroke-width="1.0"/>
<line x1="452.50" y1="321.60" x2="452.50" y2="323.80" stroke="#888" stroke-width="1.0"/>
<line x1="474.70" y1="321.60" x2="474.70" y2="323.80" stroke="#888" stroke-width="1.0"/>
<line x1="496.90" y1="321.60" x2="496.90" y2="323.80" stroke="#888" stroke-width="1.0"/>
<line x1="519.10" y1="321.60" x2="519.10" y2="323.80" stroke="#888" stroke-width="1.0"/>
<rect x="388.65" y="316.18" width="8.10" height="5.42" fill="#fff" stroke="#222" stroke-width="0.9"/>
<rect x="397.65" y="305.91" width="8.10" height="15.69" fill="#a0a0a0" stroke="#222" stroke-width="0.9"/>
<line x1="392.70" y1="315.73" x2="392.70" y2="313.77" stroke="#666" stroke-width="1.3"/>
<line x1="390.00" y1="313.77" x2="395.40" y2="313.77" stroke="#111" stroke-width="1.2"/>
<line x1="401.70" y1="305.46" x2="401.70" y2="292.25" stroke="#666" stroke-width="1.3"/>
<line x1="399.00" y1="292.25" x2="404.40" y2="292.25" stroke="#111" stroke-width="1.2"/>
<line x1="389.90" y1="328.50" x2="394.70" y2="328.50" stroke="#000" stroke-width="1.1"/>
<line x1="399.40" y1="328.50" x2="403.90" y2="328.50" stroke="#000" stroke-width="1.1"/>
<line x1="401.60" y1="326.00" x2="401.60" y2="332.40" stroke="#000" stroke-width="1.1"/>
<line x1="389.70" y1="332.40" x2="404.30" y2="332.40" stroke="#000" stroke-width="1.5"/>
<text x="398.85" y="335.70" font-size="6.0" text-anchor="end" style="stroke-width:0.15px" letter-spacing="0.85" transform="rotate(-90 398.85 335.70)">KMS11</text>
<rect x="410.85" y="298.08" width="8.10" height="23.52" fill="#fff" stroke="#222" stroke-width="0.9"/>
<rect x="419.85" y="275.33" width="8.10" height="46.27" fill="#a0a0a0" stroke="#222" stroke-width="0.9"/>
<line x1="414.90" y1="297.63" x2="414.90" y2="281.97" stroke="#666" stroke-width="1.3"/>
<line x1="412.20" y1="281.97" x2="417.60" y2="281.97" stroke="#111" stroke-width="1.2"/>
<line x1="423.90" y1="274.88" x2="423.90" y2="250.67" stroke="#666" stroke-width="1.3"/>
<line x1="421.20" y1="250.67" x2="426.60" y2="250.67" stroke="#111" stroke-width="1.2"/>
<line x1="412.10" y1="328.50" x2="416.90" y2="328.50" stroke="#000" stroke-width="1.1"/>
<line x1="421.60" y1="328.50" x2="426.10" y2="328.50" stroke="#000" stroke-width="1.1"/>
<line x1="423.80" y1="326.00" x2="423.80" y2="332.40" stroke="#000" stroke-width="1.1"/>
<line x1="411.90" y1="332.40" x2="426.50" y2="332.40" stroke="#000" stroke-width="1.5"/>
<text x="421.05" y="335.70" font-size="6.0" text-anchor="end" style="stroke-width:0.15px" letter-spacing="0.42" transform="rotate(-90 421.05 335.70)">H929</text>
<rect x="433.05" y="293.82" width="8.10" height="27.78" fill="#fff" stroke="#222" stroke-width="0.9"/>
<rect x="442.05" y="293.82" width="8.10" height="27.78" fill="#a0a0a0" stroke="#222" stroke-width="0.9"/>
<line x1="437.10" y1="293.37" x2="437.10" y2="272.68" stroke="#666" stroke-width="1.3"/>
<line x1="434.40" y1="272.68" x2="439.80" y2="272.68" stroke="#111" stroke-width="1.2"/>
<line x1="446.10" y1="293.37" x2="446.10" y2="286.38" stroke="#666" stroke-width="1.3"/>
<line x1="443.40" y1="286.38" x2="448.80" y2="286.38" stroke="#111" stroke-width="1.2"/>
<line x1="434.30" y1="328.50" x2="439.10" y2="328.50" stroke="#000" stroke-width="1.1"/>
<line x1="443.80" y1="328.50" x2="448.30" y2="328.50" stroke="#000" stroke-width="1.1"/>
<line x1="446.00" y1="326.00" x2="446.00" y2="332.40" stroke="#000" stroke-width="1.1"/>
<line x1="434.10" y1="332.40" x2="448.70" y2="332.40" stroke="#000" stroke-width="1.5"/>
<text x="443.25" y="335.70" font-size="6.0" text-anchor="end" style="stroke-width:0.15px" letter-spacing="0.42" transform="rotate(-90 443.25 335.70)">8226</text>
<rect x="455.25" y="306.15" width="8.10" height="15.45" fill="#fff" stroke="#222" stroke-width="0.9"/>
<rect x="463.80" y="260.45" width="9.00" height="61.15" fill="#000"/>
<line x1="459.30" y1="305.70" x2="459.30" y2="298.31" stroke="#666" stroke-width="1.3"/>
<line x1="456.60" y1="298.31" x2="462.00" y2="298.31" stroke="#111" stroke-width="1.2"/>
<line x1="468.30" y1="260.45" x2="468.30" y2="214.22" stroke="#666" stroke-width="1.3"/>
<line x1="465.60" y1="214.22" x2="471.00" y2="214.22" stroke="#111" stroke-width="1.2"/>
<path d="M468.30,206.70L468.30,204.80M468.30,206.70L470.11,206.11M468.30,206.70L469.42,208.24M468.30,206.70L467.18,208.24M468.30,206.70L466.49,206.11" stroke="#000" stroke-width="1.05" stroke-linecap="round"/>
<line x1="456.50" y1="328.50" x2="461.30" y2="328.50" stroke="#000" stroke-width="1.1"/>
<line x1="466.00" y1="328.50" x2="470.50" y2="328.50" stroke="#000" stroke-width="1.1"/>
<line x1="468.20" y1="326.00" x2="468.20" y2="332.40" stroke="#000" stroke-width="1.1"/>
<line x1="456.30" y1="332.40" x2="470.90" y2="332.40" stroke="#000" stroke-width="1.5"/>
<text x="465.45" y="335.70" font-size="6.0" text-anchor="end" style="stroke-width:0.15px" letter-spacing="0.7" transform="rotate(-90 465.45 335.70)">SKMM1</text>
<rect x="477.45" y="316.28" width="8.10" height="5.32" fill="#fff" stroke="#222" stroke-width="0.9"/>
<rect x="486.00" y="308.98" width="9.00" height="12.62" fill="#000"/>
<line x1="481.50" y1="315.83" x2="481.50" y2="310.45" stroke="#666" stroke-width="1.3"/>
<line x1="478.80" y1="310.45" x2="484.20" y2="310.45" stroke="#111" stroke-width="1.2"/>
<line x1="490.50" y1="308.98" x2="490.50" y2="299.34" stroke="#666" stroke-width="1.3"/>
<line x1="487.80" y1="299.34" x2="493.20" y2="299.34" stroke="#111" stroke-width="1.2"/>
<line x1="478.70" y1="328.50" x2="483.50" y2="328.50" stroke="#000" stroke-width="1.1"/>
<line x1="488.20" y1="328.50" x2="492.70" y2="328.50" stroke="#000" stroke-width="1.1"/>
<line x1="490.40" y1="326.00" x2="490.40" y2="332.40" stroke="#000" stroke-width="1.1"/>
<line x1="478.50" y1="332.40" x2="493.10" y2="332.40" stroke="#000" stroke-width="1.5"/>
<text x="487.65" y="335.70" font-size="6.0" text-anchor="end" style="stroke-width:0.15px" letter-spacing="0.42" transform="rotate(-90 487.65 335.70)">LP1</text>
<rect x="499.65" y="313.78" width="8.10" height="7.82" fill="#fff" stroke="#222" stroke-width="0.9"/>
<rect x="508.20" y="304.72" width="9.00" height="16.88" fill="#000"/>
<line x1="503.70" y1="313.33" x2="503.70" y2="308.59" stroke="#666" stroke-width="1.3"/>
<line x1="501.00" y1="308.59" x2="506.40" y2="308.59" stroke="#111" stroke-width="1.2"/>
<line x1="512.70" y1="304.72" x2="512.70" y2="290.29" stroke="#666" stroke-width="1.3"/>
<line x1="510.00" y1="290.29" x2="515.40" y2="290.29" stroke="#111" stroke-width="1.2"/>
<line x1="500.90" y1="328.50" x2="505.70" y2="328.50" stroke="#000" stroke-width="1.1"/>
<line x1="510.40" y1="328.50" x2="514.90" y2="328.50" stroke="#000" stroke-width="1.1"/>
<line x1="512.60" y1="326.00" x2="512.60" y2="332.40" stroke="#000" stroke-width="1.1"/>
<line x1="500.70" y1="332.40" x2="515.30" y2="332.40" stroke="#000" stroke-width="1.5"/>
<text x="509.85" y="335.70" font-size="6.0" text-anchor="end" style="stroke-width:0.15px" letter-spacing="0.55" transform="rotate(-90 509.85 335.70)">OCIMY5</text>
<text x="386.70" y="329.50" font-size="5.2" text-anchor="end" style="stroke-width:0.2px" letter-spacing="0.25">lovastatin</text>
<line x1="389.30" y1="241.40" x2="448.60" y2="241.40" stroke="#000" stroke-width="1.4"/>
<text x="401.60" y="239.00" font-size="7.8" text-anchor="start" style="stroke-width:0.3px" font-weight="bold" letter-spacing="0.0">Sensitive</text>
<line x1="455.50" y1="201.40" x2="515.80" y2="201.40" stroke="#000" stroke-width="1.4"/>
<text x="465.20" y="199.00" font-size="7.8" text-anchor="start" style="stroke-width:0.3px" font-weight="bold" letter-spacing="0.0">Insensitive</text>
<text x="361.90" y="262.40" font-size="6.85" text-anchor="middle" font-weight="bold" transform="rotate(-90 361.90 262.40)">LDLR relative expression</text>
</svg>
</body></html>
